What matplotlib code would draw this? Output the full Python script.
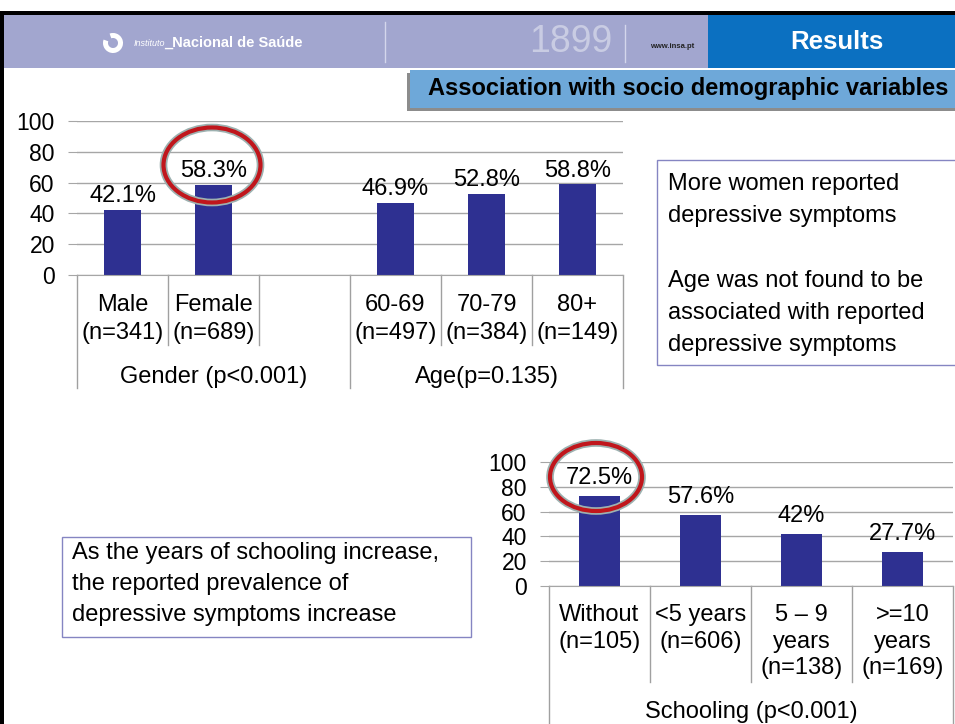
import matplotlib.pyplot as plt
from matplotlib.patches import Rectangle, Ellipse, Wedge

plt.rcParams['font.family'] = ['Liberation Sans', 'DejaVu Sans']

# data
gender_labels = ['Male\n(n=341)', 'Female\n(n=689)']
gender_values = [42.1, 58.3]
age_labels = ['60-69\n(n=497)', '70-79\n(n=384)', '80+\n(n=149)']
age_values = [46.9, 52.8, 58.8]
top_groups = ['Gender (p<0.001)', 'Age(p=0.135)']

school_labels = ['Without\n(n=105)', '<5 years\n(n=606)',
                 '5 – 9\nyears\n(n=138)', '>=10\nyears\n(n=169)']
school_values = [72.5, 57.6, 42.0, 27.7]
school_text = ['72.5%', '57.6%', '42%', '27.7%']
bottom_group = 'Schooling (p<0.001)'

yticks = [0, 20, 40, 60, 80, 100]

W, H = 955, 724
bar_color = '#2e3091'
grid_color = '#a6a6a6'
sep_color = '#a0a0a0'


def box(l, t, r, b):
    return [l / W, 1 - b / H, (r - l) / W, (b - t) / H]


fig = plt.figure(figsize=(9.55, 7.24), dpi=100)

bg = fig.add_axes([0, 0, 1, 1], zorder=0)
fg = fig.add_axes([0, 0, 1, 1], zorder=10)
for a in (bg, fg):
    a.set_xlim(0, W)
    a.set_ylim(H, 0)
    a.axis('off')
fg.patch.set_alpha(0)

# header band
bg.add_patch(Rectangle((4, 14), 704, 54, color='#a2a6cf', lw=0))
bg.add_patch(Rectangle((708, 14), 247, 54, color='#0b70c1', lw=0))
bg.text(837, 42, 'Results', color='white', fontsize=18.5, weight='bold',
        ha='center', va='center')
bg.plot([385, 385], [22, 62], color='#d4d6ec', lw=1)
bg.plot([625, 625], [25, 62], color='#d4d6ec', lw=1)
bg.text(571, 42, '1899', color='#c9cce3', fontsize=27,
        family=['Liberation Sans Narrow', 'Liberation Sans'],
        ha='center', va='center')
bg.text(672, 47, 'www.insa.pt', color='#222222', fontsize=5.5, weight='bold',
        ha='center', va='center')
bg.add_patch(Wedge((113, 43), 10, 250, 200, width=5, color='white', lw=0))
bg.text(134, 44, 'Instituto', color='white', fontsize=6.5, style='italic',
        ha='left', va='center')
bg.text(164, 43, '_Nacional de Saúde', color='white', fontsize=10.5, weight='bold',
        family=['Liberation Sans Narrow', 'Liberation Sans'],
        ha='left', va='center')

# black frame
bg.add_patch(Rectangle((0, 11), W, 3.5, color='black', lw=0))
bg.add_patch(Rectangle((0, 11), 4, H, color='black', lw=0))

# subtitle box
bg.add_patch(Rectangle((407, 73), 548, 38, color='#8c8c8c', lw=0))
bg.add_patch(Rectangle((410, 70), 545, 38, color='#6ea8d9', lw=0))
bg.text(688, 89, 'Association with socio demographic variables', fontsize=17,
        weight='bold', ha='center', va='center')


def style_axes(ax):
    ax.set_ylim(0, 100)
    ax.set_yticks(yticks)
    ax.yaxis.grid(True, color=grid_color, lw=1)
    ax.set_axisbelow(True)
    for s in ('top', 'right', 'left'):
        ax.spines[s].set_visible(False)
    ax.spines['bottom'].set_color(grid_color)
    ax.tick_params(axis='y', length=6.5, color=grid_color, labelsize=16.5, pad=9.5)
    ax.tick_params(axis='x', length=0, labelbottom=False)
    ax.patch.set_alpha(0)


# top chart: gender and age
ax1 = fig.add_axes(box(77, 121, 623, 275), zorder=5)
gx = [0, 1]
ax_ = [3, 4, 5]
ax1.bar(gx, gender_values, width=0.4, color=bar_color)
ax1.bar(ax_, age_values, width=0.4, color=bar_color)
ax1.set_xlim(-0.5, 5.5)
style_axes(ax1)


def yf1(px):
    return (275 - px) / 154


t1 = ax1.get_xaxis_transform()
for x, v in zip(gx + ax_, gender_values + age_values):
    ax1.annotate(f'{v}%', (x, v), xytext=(0, 2), textcoords='offset points',
                 ha='center', va='bottom', fontsize=17)
for x, lab in zip(gx + ax_, gender_labels + age_labels):
    ax1.text(x, yf1(319), lab, transform=t1, ha='center', va='center',
             fontsize=17, linespacing=1.3)
for x in [-0.5, 0.5, 1.5, 2.5, 3.5, 4.5, 5.5]:
    end = yf1(388) if x in (-0.5, 2.5, 5.5) else yf1(345)
    ax1.plot([x, x], [0, end], transform=t1, clip_on=False, color=sep_color, lw=1)
for x, lab in zip([1, 4], top_groups):
    ax1.text(x, yf1(377), lab, transform=t1, ha='center', va='center', fontsize=17)

# bottom chart: schooling
ax2 = fig.add_axes(box(549, 462, 953, 586), zorder=5)
sx = list(range(len(school_values)))
ax2.bar(sx, school_values, width=0.4, color=bar_color)
ax2.set_xlim(-0.5, 3.5)
style_axes(ax2)


def yf2(px):
    return (586 - px) / 124


t2 = ax2.get_xaxis_transform()
for x, v, s in zip(sx, school_values, school_text):
    ax2.annotate(s, (x, v), xytext=(0, 5), textcoords='offset points',
                 ha='center', va='bottom', fontsize=17)
for x, lab in zip(sx, school_labels):
    ax2.text(x, yf2(604), lab, transform=t2, ha='center', va='top',
             fontsize=17, linespacing=1.27)
for x in [-0.5, 0.5, 1.5, 2.5, 3.5]:
    end = yf2(724) if x in (-0.5, 3.5) else yf2(682)
    ax2.plot([x, x], [0, end], transform=t2, clip_on=False, color=sep_color, lw=1)
ax2.text(1.5, yf2(712), bottom_group, transform=t2, ha='center', va='center',
         fontsize=17)

# text boxes
fg.add_patch(Rectangle((657, 160), 300, 205, fc='white', ec='#8585c2', lw=1))
fg.text(668, 173, 'More women reported\ndepressive symptoms\n\n'
        'Age was not found to be\nassociated with reported\ndepressive symptoms',
        ha='left', va='top', fontsize=17, linespacing=1.6)
fg.add_patch(Rectangle((62, 537), 409, 100, fc='white', ec='#8585c2', lw=1))
fg.text(72, 542, 'As the years of schooling increase,\nthe reported prevalence of\n'
        'depressive symptoms increase',
        ha='left', va='top', fontsize=17, linespacing=1.54)

# highlight circles
for (cx, cy, w, h) in [(212, 165, 97, 75), (596, 477, 92, 68)]:
    fg.add_patch(Ellipse((cx, cy), w, h, fill=False, ec='#9db1b0', lw=5.5))
    fg.add_patch(Ellipse((cx, cy), w, h, fill=False, ec='#c0161c', lw=3))

fig.savefig('out.png', dpi=100)
